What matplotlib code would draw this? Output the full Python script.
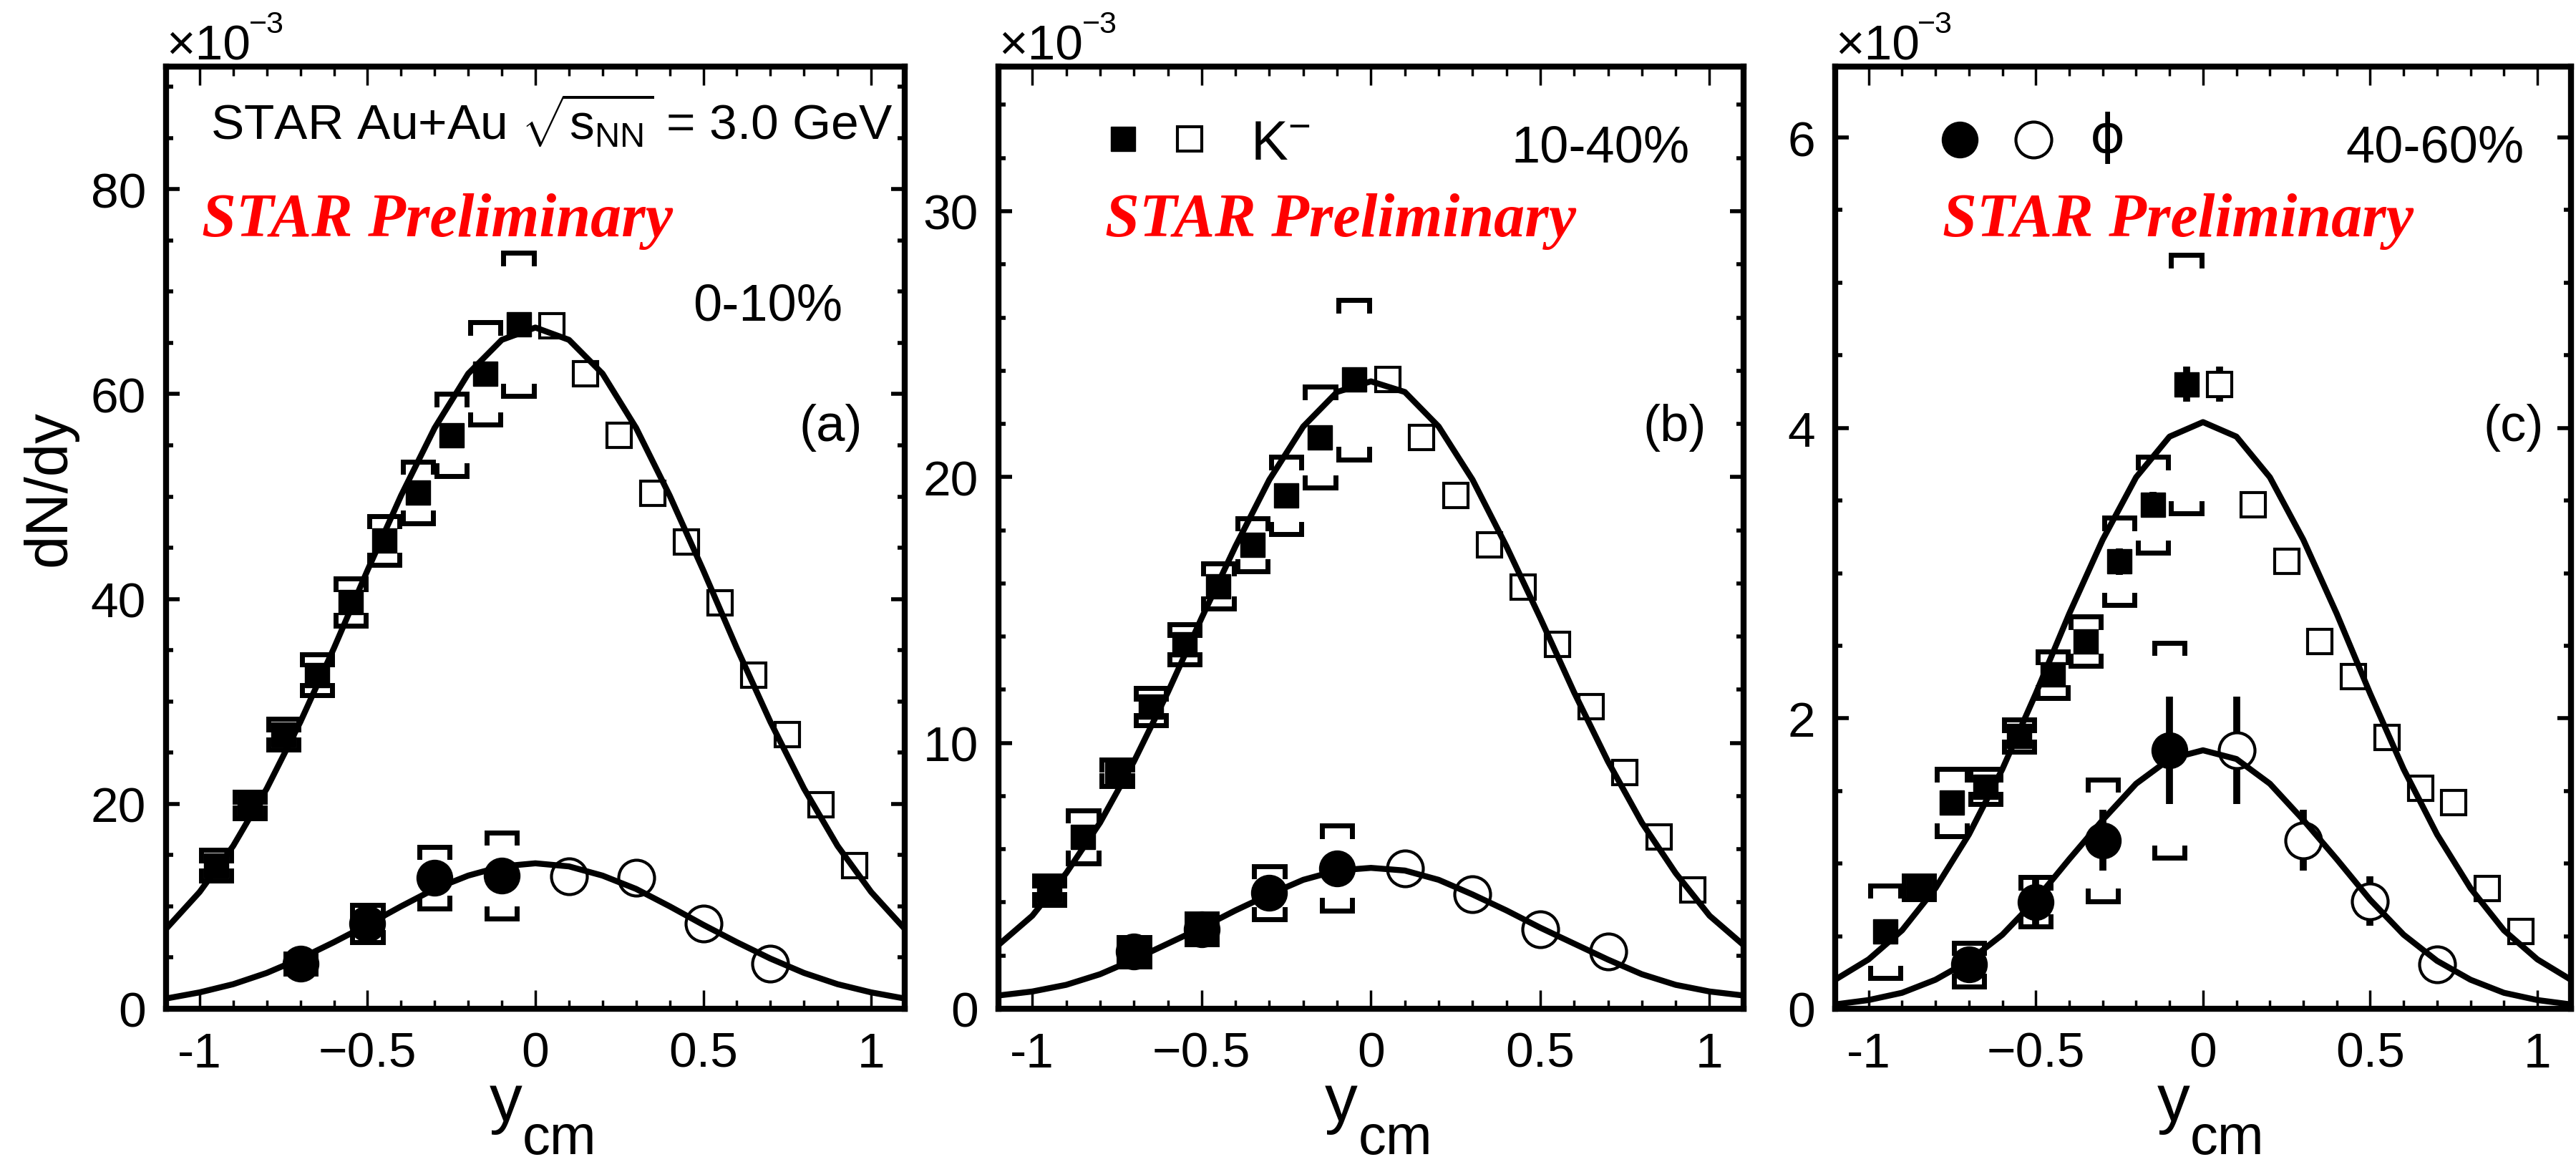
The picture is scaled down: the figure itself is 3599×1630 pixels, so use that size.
import matplotlib
matplotlib.use("Agg")
import matplotlib.pyplot as plt
from matplotlib.ticker import MultipleLocator, FixedLocator, FixedFormatter

plt.rcParams['font.family'] = ['Liberation Sans', 'DejaVu Sans']
plt.rcParams['mathtext.fontset'] = 'custom'
plt.rcParams['mathtext.rm'] = 'Liberation Sans'
plt.rcParams['mathtext.it'] = 'Liberation Sans:italic'
plt.rcParams['mathtext.bf'] = 'Liberation Sans:bold'

# rapidity bins (filled = measured, open = reflected)
y_k_neg = [-0.95, -0.85, -0.75, -0.65, -0.55, -0.45, -0.35, -0.25, -0.15, -0.05]
y_k_pos = [0.05, 0.15, 0.25, 0.35, 0.45, 0.55, 0.65, 0.75, 0.85, 0.95]
y_phi_neg = [-0.7, -0.5, -0.3, -0.1]
y_phi_pos = [0.1, 0.3, 0.5, 0.7]

# fit curves
fit_x = [-1.1, -1.0, -0.9, -0.8, -0.7, -0.6, -0.5, -0.4, -0.3, -0.2, -0.1, 0.0,
         0.1, 0.2, 0.3, 0.4, 0.5, 0.6, 0.7, 0.8, 0.9, 1.0, 1.1]

# (a) 0-10%  (units of 1e-3)
k_a = [14.0, 19.9, 26.8, 32.6, 39.7, 45.7, 50.4, 56.0, 62.0, 66.8]
k_a_open = [66.7, 62.0, 56.0, 50.3, 45.6, 39.6, 32.6, 26.8, 19.9, 14.0]
k_a_stat = [0.9, 0.9, 0.9, 0.9, 0.8, 0.8, 0.8, 0.7, 0.7, 0.7]
k_a_sys = [1.5, 1.3, 1.5, 2.0, 2.3, 2.4, 3.0, 4.0, 5.0, 7.0]
phi_a = [4.4, 8.3, 12.8, 13.0]
phi_a_open = [12.9, 12.8, 8.3, 4.4]
phi_a_stat = [0.5, 0.6, 0.8, 0.9]
phi_a_sys = [1.0, 1.8, 3.0, 4.2]
fit_k_a = [7.8, 11.4, 15.9, 21.5, 28.0, 35.2, 42.8, 50.1, 56.7, 62.0, 65.3, 66.5,
           65.3, 62.0, 56.7, 50.1, 42.8, 35.2, 28.0, 21.5, 15.9, 11.4, 7.8]
fit_phi_a = [1.0, 1.6, 2.4, 3.5, 4.9, 6.5, 8.2, 10.0, 11.7, 13.0, 13.9, 14.2,
             13.9, 13.0, 11.7, 10.0, 8.2, 6.5, 4.9, 3.5, 2.4, 1.6, 1.0]

# (b) 10-40%
k_b = [4.46, 6.47, 8.88, 11.36, 13.7, 15.9, 17.45, 19.3, 21.5, 23.66]
k_b_open = [23.66, 21.5, 19.3, 17.45, 15.85, 13.7, 11.36, 8.9, 6.47, 4.46]
k_b_stat = [0.3, 0.3, 0.3, 0.3, 0.3, 0.3, 0.3, 0.3, 0.3, 0.3]
k_b_sys = [0.55, 1.0, 0.5, 0.7, 0.75, 0.85, 1.0, 1.45, 1.9, 3.0]
phi_b = [2.15, 3.0, 4.36, 5.29]
phi_b_open = [5.29, 4.32, 3.0, 2.15]
phi_b_stat = [0.3, 0.3, 0.3, 0.3]
phi_b_sys = [0.55, 0.57, 1.0, 1.6]
fit_k_b = [2.4, 3.5, 5.1, 7.0, 9.3, 11.9, 14.7, 17.4, 19.9, 21.9, 23.2, 23.6,
           23.2, 21.9, 19.9, 17.4, 14.7, 11.9, 9.3, 7.0, 5.1, 3.5, 2.4]
fit_phi_b = [0.5, 0.65, 0.9, 1.3, 1.85, 2.45, 3.05, 3.7, 4.3, 4.85, 5.2, 5.3,
             5.2, 4.85, 4.3, 3.7, 3.05, 2.45, 1.85, 1.3, 0.9, 0.65, 0.5]

# (c) 40-60%
k_c = [0.53, 0.835, 1.42, 1.53, 1.88, 2.30, 2.53, 3.08, 3.47, 4.30]
k_c_open = [4.30, 3.47, 3.08, 2.53, 2.29, 1.87, 1.52, 1.42, 0.83, 0.53]
k_c_stat = [0.05, 0.06, 0.06, 0.07, 0.07, 0.08, 0.08, 0.09, 0.09, 0.12]
k_c_sys = [0.32, 0.08, 0.23, 0.12, 0.11, 0.16, 0.17, 0.30, 0.33, 0.89]
phi_c = [0.305, 0.736, 1.16, 1.78]
phi_c_open = [1.78, 1.16, 0.74, 0.305]
phi_c_stat = [0.1, 0.17, 0.21, 0.37]
phi_c_stat_open = [0.37, 0.21, 0.17, 0.1]
phi_c_sys = [0.15, 0.17, 0.42, 0.74]
fit_k_c = [0.20, 0.34, 0.54, 0.83, 1.20, 1.65, 2.17, 2.72, 3.23, 3.66, 3.94, 4.04,
           3.94, 3.66, 3.23, 2.72, 2.17, 1.65, 1.20, 0.83, 0.54, 0.34, 0.20]
fit_phi_c = [0.03, 0.06, 0.11, 0.20, 0.33, 0.51, 0.75, 1.03, 1.30, 1.55, 1.72, 1.78,
             1.72, 1.55, 1.30, 1.03, 0.75, 0.51, 0.33, 0.20, 0.11, 0.06, 0.03]

x_ticks = [-1, -0.5, 0, 0.5, 1]
x_tick_labels = ['-1', '\u22120.5', '0', '0.5', '1']

panels = [
    dict(k=k_a, k_open=k_a_open, k_stat=k_a_stat, k_sys=k_a_sys,
         phi=phi_a, phi_open=phi_a_open, phi_stat=phi_a_stat, phi_stat_open=phi_a_stat,
         phi_sys=phi_a_sys, fit_k=fit_k_a, fit_phi=fit_phi_a,
         ymax=92, major=20, minor=5, cent='0-10%', tag='(a)',
         pos=[0.06446, 0.1355, 0.28675, 0.8071]),
    dict(k=k_b, k_open=k_b_open, k_stat=k_b_stat, k_sys=k_b_sys,
         phi=phi_b, phi_open=phi_b_open, phi_stat=phi_b_stat, phi_stat_open=phi_b_stat,
         phi_sys=phi_b_sys, fit_k=fit_k_b, fit_phi=fit_phi_b,
         ymax=35.45, major=10, minor=2, cent='10-40%', tag='(b)',
         pos=[0.3876, 0.1355, 0.2892, 0.8071]),
    dict(k=k_c, k_open=k_c_open, k_stat=k_c_stat, k_sys=k_c_sys,
         phi=phi_c, phi_open=phi_c_open, phi_stat=phi_c_stat, phi_stat_open=phi_c_stat_open,
         phi_sys=phi_c_sys, fit_k=fit_k_c, fit_phi=fit_phi_c,
         ymax=6.49, major=2, minor=0.5, cent='40-60%', tag='(c)',
         pos=[0.7124, 0.1355, 0.2856, 0.8071]),
]


def brackets(ax, xs, ys, errs, tick):
    hw = 0.045
    for x, y, e in zip(xs, ys, errs):
        ax.plot([x - hw, x - hw, x + hw, x + hw], [y + e - tick, y + e, y + e, y + e - tick],
                color='k', lw=5, solid_joinstyle='miter', zorder=2)
        ax.plot([x - hw, x - hw, x + hw, x + hw], [y - e + tick, y - e, y - e, y - e + tick],
                color='k', lw=5, solid_joinstyle='miter', zorder=2)


fig = plt.figure(figsize=(35.99, 16.31), dpi=100)

for i, p in enumerate(panels):
    ax = fig.add_axes(p['pos'])
    ax.set_xlim(-1.1, 1.1)
    ax.set_ylim(0, p['ymax'])
    tick = 0.011 * p['ymax']

    brackets(ax, y_k_neg, p['k'], p['k_sys'], tick)
    brackets(ax, y_phi_neg, p['phi'], p['phi_sys'], tick)

    # stat errors sit behind the markers; open markers are white so the bar is hidden inside
    ax.errorbar(y_k_neg, p['k'], yerr=p['k_stat'], fmt='none', ecolor='k', elinewidth=7, capsize=0, zorder=2)
    ax.errorbar(y_k_pos, p['k_open'], yerr=p['k_stat'][::-1], fmt='none', ecolor='k', elinewidth=7, capsize=0, zorder=2)
    ax.errorbar(y_phi_neg, p['phi'], yerr=p['phi_stat'], fmt='none', ecolor='k', elinewidth=7, capsize=0, zorder=2)
    ax.errorbar(y_phi_pos, p['phi_open'], yerr=p['phi_stat_open'], fmt='none', ecolor='k', elinewidth=7, capsize=0, zorder=2)

    ax.plot(y_k_neg, p['k'], 's', ms=25, color='k', zorder=3)
    ax.plot(y_k_pos, p['k_open'], 's', ms=25, mfc='white', mec='k', mew=3, zorder=3)
    ax.plot(y_phi_neg, p['phi'], 'o', ms=36, color='k', zorder=3)
    ax.plot(y_phi_pos, p['phi_open'], 'o', ms=36, mfc='white', mec='k', mew=3, zorder=3)

    ax.plot(fit_x, p['fit_k'], color='k', lw=6, zorder=4)
    ax.plot(fit_x, p['fit_phi'], color='k', lw=6, zorder=4)

    # axes style
    for s in ax.spines.values():
        s.set_linewidth(6)
    ax.xaxis.set_major_locator(FixedLocator(x_ticks))
    ax.xaxis.set_major_formatter(FixedFormatter(x_tick_labels))
    ax.xaxis.set_minor_locator(MultipleLocator(0.1))
    ax.yaxis.set_major_locator(MultipleLocator(p['major']))
    ax.yaxis.set_minor_locator(MultipleLocator(p['minor']))
    ax.tick_params(axis='x', which='major', direction='in', length=19, width=2.5,
                   top=True, bottom=True, labelsize=50, pad=22)
    ax.tick_params(axis='x', which='minor', direction='in', length=9, width=2.5, top=True, bottom=True)
    ax.tick_params(axis='y', which='major', direction='in', length=14, width=4,
                   left=True, right=True, labelsize=50, pad=20)
    ax.tick_params(axis='y', which='minor', direction='in', length=7, width=4, left=True, right=True)

    # x10^-3 multiplier
    ax.text(0.0, 1.008, '\u00d710', transform=ax.transAxes, fontsize=50, ha='left', va='baseline')
    ax.text(0.112, 1.036, '\u22123', transform=ax.transAxes, fontsize=31, ha='left', va='baseline')

    # x label y_cm
    ax.text(0.438, -0.1185, 'y', transform=ax.transAxes, fontsize=66, ha='left', va='baseline')
    ax.text(0.4826, -0.1535, 'cm', transform=ax.transAxes, fontsize=56, ha='left', va='baseline')

    prelim_x = [0.048, 0.143, 0.146][i]
    ax.text(prelim_x, 0.8204, 'STAR Preliminary', transform=ax.transAxes, color='red',
            fontsize=62, family='Liberation Serif', fontweight='bold', fontstyle='italic',
            ha='left', va='baseline')

    tag_x = [0.943, 0.95, 0.963][i]
    ax.text(tag_x, 0.6176, p['tag'], transform=ax.transAxes, fontsize=52, ha='right', va='center')

    if i == 0:
        ax.text(0.060, 0.923, r'STAR Au+Au $\sqrt{\mathrm{s}_{\mathrm{NN}}}$ = 3.0 GeV',
                transform=ax.transAxes, fontsize=50, ha='left', va='baseline')
        ax.text(0.916, 0.7308, p['cent'], transform=ax.transAxes, fontsize=52, ha='right', va='baseline')
    elif i == 1:
        ax.text(0.928, 0.8987, p['cent'], transform=ax.transAxes, fontsize=52, ha='right', va='baseline')
        ax.plot([0.167], [0.923], 's', ms=25, color='k', transform=ax.transAxes, clip_on=False)
        ax.plot([0.2565], [0.923], 's', ms=25, mfc='white', mec='k', mew=3, transform=ax.transAxes, clip_on=False)
        ax.text(0.338, 0.9017, r'K$^{\mathrm{-}}$', transform=ax.transAxes, fontsize=56, ha='left', va='baseline')
    else:
        ax.text(0.937, 0.8987, p['cent'], transform=ax.transAxes, fontsize=52, ha='right', va='baseline')
        ax.plot([0.169], [0.922], 'o', ms=36, color='k', transform=ax.transAxes, clip_on=False)
        ax.plot([0.270], [0.922], 'o', ms=36, mfc='white', mec='k', mew=3, transform=ax.transAxes, clip_on=False)
        ax.text(0.37, 0.925, '\u03d5', transform=ax.transAxes, fontsize=54, ha='center', va='center',
                family=['DejaVu Sans'])

fig.text(0.0192, 0.5818, 'dN/dy', rotation=90, fontsize=60, ha='center', va='center')

fig.savefig('out.png', dpi=100)
